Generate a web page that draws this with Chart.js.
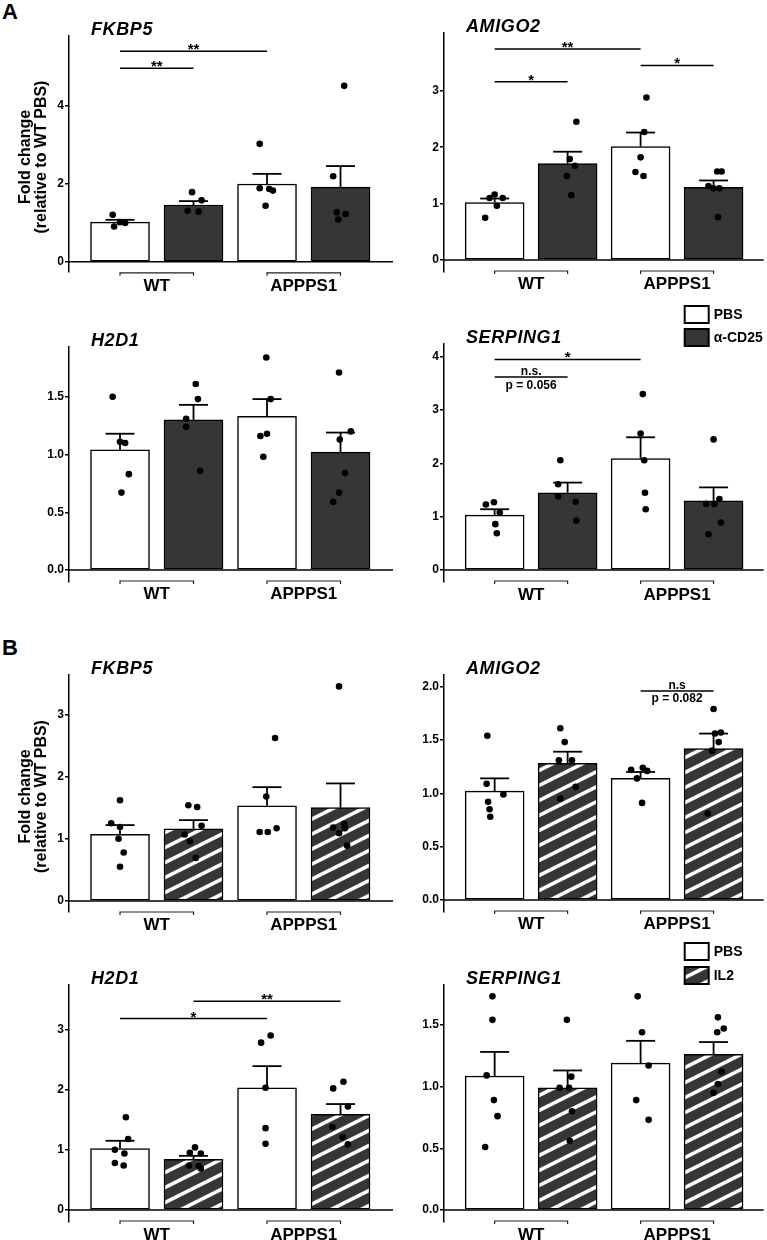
<!DOCTYPE html>
<html><head><meta charset="utf-8">
<script src="https://cdn.jsdelivr.net/npm/chart.js@4.4.1/dist/chart.umd.min.js"></script>
<style>
html,body{margin:0;padding:0;background:#fff;width:767px;height:1240px;overflow:hidden;position:relative;font-family:'Liberation Sans',Arial,sans-serif;}
canvas{position:absolute;}
.lab{position:absolute;font-weight:bold;font-size:22px;line-height:22px;color:#000;}
</style></head><body>
<div class="lab" style="left:2px;top:1px">A</div>
<div class="lab" style="left:2px;top:637px">B</div>
<script>
// ---------- categories ----------
const groups = ['WT', 'APPPS1'];
const legendA = ['PBS', 'α-CD25'];
const legendB = ['PBS', 'IL2'];
const yTitle = ['Fold change', '(relative to WT PBS)'];

// ---------- Panel A : FKBP5 ----------
const aFkbp5Mean = [1.02, 1.46, 2.00, 1.92];
const aFkbp5Sem  = [0.06, 0.10, 0.26, 0.54];
const aFkbp5Pts  = [[1.21,0.91,1.02,1.00],[1.79,1.58,1.31,1.29],[3.03,1.87,1.83,1.44,1.89],[4.52,2.20,1.27,1.23,1.09]];
const aFkbp5Jit  = [[-0.10,-0.08,0,0.07],[-0.02,0.11,-0.08,0.07],[-0.10,0.03,0.08,-0.02,-0.10],[0.05,-0.10,-0.05,0.07,-0.03]];
const aFkbp5Ticks = [0, 2, 4];
const aFkbp5TickLabels = ['0', '2', '4'];
const aFkbp5Sig = [{from:0,to:2,at:5.41,text:'**'},{from:0,to:1,at:4.97,text:'**'}];

// ---------- Panel A : AMIGO2 ----------
const aAmigo2Mean = [1.02, 1.71, 2.01, 1.29];
const aAmigo2Sem  = [0.07, 0.21, 0.25, 0.12];
const aAmigo2Pts  = [[1.16,1.10,1.10,0.96,0.75],[2.45,1.79,1.67,1.49,1.15],[2.88,2.27,1.82,1.56,1.49],[1.57,1.57,1.31,1.27,1.27,0.76]];
const aAmigo2Jit  = [[0,-0.07,0.11,0.03,-0.13],[0.12,0.03,0.10,-0.01,0.05],[0.08,0.05,0,-0.07,0.04],[0.05,0.11,-0.07,0,0.08,0.06]];
const aAmigo2Ticks = [0, 1, 2, 3];
const aAmigo2TickLabels = ['0', '1', '2', '3'];
const aAmigo2Sig = [{from:0,to:2,at:3.74,text:'**'},{from:0,to:1,at:3.16,text:'*'},{from:2,to:3,at:3.45,text:'*'}];

// ---------- Panel A : H2D1 ----------
const aH2d1Mean = [1.04, 1.30, 1.33, 1.02];
const aH2d1Sem  = [0.14, 0.13, 0.15, 0.17];
const aH2d1Pts  = [[1.50,1.11,1.10,0.83,0.67],[1.61,1.48,1.31,1.24,0.86],[1.84,1.48,1.18,1.16,0.98],[1.71,1.20,1.13,0.84,0.67,0.59]];
const aH2d1Jit  = [[-0.10,0,0.07,0.12,0.02],[0.03,0.06,-0.10,-0.10,0.09],[-0.01,0.05,0,-0.09,-0.05],[-0.02,0.14,-0.01,0.06,-0.02,-0.10]];
const aH2d1Ticks = [0, 0.5, 1, 1.5];
const aH2d1TickLabels = ['0.0', '0.5', '1.0', '1.5'];

// ---------- Panel A : SERPING1 ----------
const aSerping1Mean = [1.03, 1.45, 2.09, 1.30];
const aSerping1Sem  = [0.11, 0.19, 0.40, 0.25];
const aSerping1Pts  = [[1.27,1.23,1.08,0.86,0.69],[2.06,1.61,1.38,1.28,0.93],[3.30,2.56,2.06,1.45,1.14],[2.45,1.33,1.24,1.24,0.89,0.67]];
const aSerping1Jit  = [[-0.01,-0.12,0.07,0.01,0.03],[-0.10,-0.13,-0.13,0.11,0.12],[0.03,0,0.05,0.06,0.07],[0,0.08,-0.10,0.01,0.10,-0.07]];
const aSerping1Ticks = [0, 1, 2, 3, 4];
const aSerping1TickLabels = ['0', '1', '2', '3', '4'];
const aSerping1Sig = [{from:0,to:2,at:3.95,text:'*'},{from:0,to:1,at:3.62,text:'n.s.',below:'p = 0.056'}];

// ---------- Panel B : FKBP5 ----------
const bFkbp5Mean = [1.07, 1.16, 1.53, 1.50];
const bFkbp5Sem  = [0.15, 0.14, 0.30, 0.39];
const bFkbp5Pts  = [[1.62,1.25,1.19,1.00,0.78,0.55],[1.54,1.51,1.21,1.07,0.96,0.69],[2.62,1.68,1.11,1.11,1.17],[3.45,1.18,1.24,1.09,1.17,0.89]];
const bFkbp5Jit  = [[0,-0.12,0,-0.02,0.05,0],[-0.07,0.05,0.11,-0.12,-0.05,0.03],[0.11,-0.01,-0.10,0.01,0.13],[-0.02,-0.10,0.05,-0.02,0.06,0.09]];
const bFkbp5Ticks = [0, 1, 2, 3];
const bFkbp5TickLabels = ['0', '1', '2', '3'];

// ---------- Panel B : AMIGO2 ----------
const bAmigo2Mean = [1.02, 1.28, 1.14, 1.42];
const bAmigo2Sem  = [0.12, 0.11, 0.06, 0.14];
const bAmigo2Pts  = [[1.54,1.09,0.99,0.92,0.85,0.78],[1.61,1.48,1.31,1.31,1.06,0.95],[1.22,1.24,1.21,1.14,0.91],[1.79,1.57,1.56,1.48,1.40,0.81]];
const bAmigo2Jit  = [[-0.10,-0.11,0.12,-0.09,-0.07,-0.06],[-0.10,-0.04,-0.12,0.06,0.11,-0.10],[-0.13,0.03,0.09,-0.05,0.02],[0,0.10,0.02,0.07,-0.02,-0.08]];
const bAmigo2Ticks = [0, 0.5, 1, 1.5, 2];
const bAmigo2TickLabels = ['0.0', '0.5', '1.0', '1.5', '2.0'];
const bAmigo2Sig = [{from:2,to:3,at:1.96,text:'n.s',below:'p = 0.082'}];

// ---------- Panel B : H2D1 ----------
const bH2d1Mean = [1.02, 0.84, 2.03, 1.59];
const bH2d1Sem  = [0.13, 0.06, 0.36, 0.17];
const bH2d1Pts  = [[1.54,1.18,1.00,0.94,0.78,0.74],[1.04,0.95,0.94,0.74,0.73,0.69],[2.90,2.78,2.03,1.36,1.10],[2.13,2.02,1.72,1.38,1.21,1.09]];
const bH2d1Jit  = [[0.08,0.11,-0.07,0.06,-0.07,0.05],[0.02,-0.05,0.10,-0.06,0.07,0.10],[0.05,-0.08,-0.02,-0.02,-0.02],[0.04,-0.10,0.10,-0.11,0.03,0.10]];
const bH2d1Ticks = [0, 1, 2, 3];
const bH2d1TickLabels = ['0', '1', '2', '3'];
const bH2d1Sig = [{from:0,to:2,at:3.18,text:'*'},{from:1,to:3,at:3.47,text:'**'}];

// ---------- Panel B : SERPING1 ----------
const bSerping1Mean = [1.085, 0.99, 1.19, 1.26];
const bSerping1Sem  = [0.195, 0.14, 0.18, 0.10];
const bSerping1Pts  = [[1.73,1.54,1.09,0.89,0.76,0.51],[1.54,1.08,0.99,0.99,0.80,0.56],[1.73,1.44,1.17,0.89,0.73],[1.56,1.47,1.44,1.12,1.02,0.95]];
const bSerping1Jit  = [[-0.03,-0.03,-0.11,-0.01,0.04,-0.13],[-0.01,0.05,-0.11,0.02,0.06,0.03],[-0.04,0.02,0.11,-0.06,0.11],[0.06,0.14,0.05,0.11,0.06,0]];
const bSerping1Ticks = [0, 0.5, 1, 1.5];
const bSerping1TickLabels = ['0.0', '0.5', '1.0', '1.5'];

// ---------- styling / layout ----------
const FONT = "'Liberation Sans', Arial, sans-serif";
const DARK = '#363636';
const COL_L = {x:0, w:400, l:69, r:393, xMin:-0.694, xMax:3.714};
const COL_R = {x:400, w:367, l:444, r:766, xMin:-0.694, xMax:3.687};

function makeHatch(ctx){
  const t = document.createElement('canvas'); t.width = 30; t.height = 15;
  const g = t.getContext('2d');
  g.fillStyle = DARK; g.fillRect(0,0,30,15);
  g.strokeStyle = '#fff'; g.lineWidth = 3.6;
  for (const off of [-15,0,15]) { g.beginPath(); g.moveTo(-2, 16+off); g.lineTo(32, -1+off); g.stroke(); }
  return ctx.createPattern(t, 'repeat');
}

function seg(ctx, x1, y1, x2, y2, w){ ctx.lineWidth = w; ctx.beginPath(); ctx.moveTo(x1,y1); ctx.lineTo(x2,y2); ctx.stroke(); }

function decor(ch, p, fills){
  const {ctx, chartArea: ca, scales:{x, y}} = ch;
  const X = v => x.getPixelForValue(v), Y = v => y.getPixelForValue(v);
  ctx.save();
  ctx.strokeStyle = '#000'; ctx.fillStyle = '#000';
  const y0 = Y(0);
  seg(ctx, ca.left, y0, ca.right, y0, 1.5);
  // error bars (mean + SEM)
  p.mean.forEach((m,i)=>{
    const cx = X(i), yt = Y(m + p.sem[i]), yb = Y(m);
    seg(ctx, cx, yb, cx, yt, 1.8);
    seg(ctx, cx-14.5, yt, cx+14.5, yt, 1.8);
  });
  // significance brackets
  (p.sig || []).forEach(s=>{
    const ys = Y(s.at), xa = X(s.from), xb = X(s.to), cx = (xa+xb)/2;
    seg(ctx, xa, ys, xb, ys, 1.5);
    ctx.textAlign = 'center'; ctx.textBaseline = 'alphabetic';
    if (s.text.charAt(0) === '*') { ctx.font = `bold 15px ${FONT}`; ctx.fillText(s.text, cx, ys+3); }
    else { ctx.font = `bold 12px ${FONT}`; ctx.fillText(s.text, cx, ys-2); if (s.below) ctx.fillText(s.below, cx, ys+11.5); }
  });
  // group brackets below the axis
  groups.forEach((g,k)=>{
    const xa = X(2*k), xb = X(2*k+1), yb = y0 + 11;
    ctx.lineWidth = 1.2; ctx.strokeStyle = '#222';
    ctx.beginPath(); ctx.moveTo(xa, yb+3); ctx.lineTo(xa, yb); ctx.lineTo(xb, yb); ctx.lineTo(xb, yb+3); ctx.stroke();
    ctx.font = `bold 17px ${FONT}`; ctx.textAlign = 'center'; ctx.textBaseline = 'alphabetic';
    ctx.fillText(g, (xa+xb)/2, y0 + 29.5);
  });
  ctx.strokeStyle = '#000';
  // title
  ctx.save();
  ctx.font = `italic bold 18px ${FONT}`; ctx.textAlign = 'left'; ctx.textBaseline = 'alphabetic';
  try { ctx.letterSpacing = '0.6px'; } catch(e) {}
  ctx.fillText(p.title, ca.left + 22, ca.top - 1);
  ctx.restore();
  // y-axis title
  if (p.yTitle) {
    ctx.save();
    ctx.translate(26, (ca.top + ca.bottom)/2 + 3);
    ctx.rotate(-Math.PI/2);
    ctx.font = `bold 16px ${FONT}`; ctx.textAlign = 'center'; ctx.textBaseline = 'middle';
    ctx.fillText(p.yTitle[0], 0, 0);
    ctx.fillText(p.yTitle[1], 0, 16);
    ctx.restore();
  }
  // legend
  if (p.legend) {
    p.legend.names.forEach((nm,k)=>{
      const bx = ca.right - 79, by = ca.top + p.legend.dy[k];
      ctx.fillStyle = fills[k]; ctx.fillRect(bx, by, 24, 17);
      ctx.lineWidth = 2; ctx.strokeStyle = '#000'; ctx.strokeRect(bx, by, 24, 17);
      ctx.fillStyle = '#000'; ctx.font = `bold 14px ${FONT}`; ctx.textAlign = 'left'; ctx.textBaseline = 'middle';
      ctx.fillText(nm, bx + 29, by + 9);
    });
  }
  ctx.restore();
}

function panel(p){
  const col = p.col;
  const cv = document.createElement('canvas');
  cv.width = col.w; cv.height = p.box.h;
  cv.style.left = col.x + 'px'; cv.style.top = p.box.y + 'px';
  cv.style.width = col.w + 'px'; cv.style.height = p.box.h + 'px';
  document.body.appendChild(cv);
  const ctx = cv.getContext('2d');
  const pat = makeHatch(ctx);
  const fills = p.hatched ? ['#fff', pat] : ['#fff', DARK];
  const barData = p.mean.map((v,i)=>({x:i, y:v}));
  const ptData = [];
  p.pts.forEach((arr,i)=>arr.forEach((v,j)=>ptData.push({x: i + p.jit[i][j], y: v})));
  new Chart(ctx, {
    type: 'bar',
    data: { datasets: [
      { type:'scatter', data: ptData, pointRadius: 3.3, pointBackgroundColor:'#000', pointBorderWidth:0, pointHoverRadius:3.3, order:0 },
      { type:'bar', data: barData, backgroundColor: c => fills[c.dataIndex % 2], borderColor:'#000', borderWidth:1.5, borderSkipped:false, barThickness:59, order:1 }
    ]},
    options: {
      responsive:false, animation:false, devicePixelRatio:1, events:[],
      layout: { padding: { left:0, right: col.x + col.w - col.r, top: p.area.t - p.box.y, bottom: p.box.y + p.box.h - p.area.b } },
      plugins: { legend:{display:false}, tooltip:{enabled:false}, title:{display:false} },
      scales: {
        x: { type:'linear', min: col.xMin, max: col.xMax, display:false, offset:false },
        y: { type:'linear', min: p.yMin, max: p.yMax,
             afterBuildTicks: s => { s.ticks = p.ticks.map(v=>({value:v})); },
             afterFit: s => { s.width = col.l - col.x; },
             ticks: { callback:(v,i)=>p.tickLabels[i], color:'#000', autoSkip:false, padding:1,
                      font:{family:FONT, size:12, weight:'bold'} },
             grid: { drawOnChartArea:false, drawTicks:true, tickLength:4, color:'#000', lineWidth:1.5 },
             border: { display:true, color:'#000', width:1.5 } }
      }
    },
    plugins: [{ id:'decor', afterDatasetsDraw: ch => decor(ch, p, fills) }]
  });
}

const panels = [
  { col:COL_L, box:{y:0,h:300},   area:{t:36,b:272},   yMin:-0.26,  yMax:5.80,  title:'FKBP5',    yTitle:yTitle,
    mean:aFkbp5Mean, sem:aFkbp5Sem, pts:aFkbp5Pts, jit:aFkbp5Jit, ticks:aFkbp5Ticks, tickLabels:aFkbp5TickLabels, sig:aFkbp5Sig },
  { col:COL_R, box:{y:0,h:300},   area:{t:33,b:272},   yMin:-0.213, yMax:4.025, title:'AMIGO2',
    mean:aAmigo2Mean, sem:aAmigo2Sem, pts:aAmigo2Pts, jit:aAmigo2Jit, ticks:aAmigo2Ticks, tickLabels:aAmigo2TickLabels, sig:aAmigo2Sig },
  { col:COL_L, box:{y:300,h:310}, area:{t:347,b:582},  yMin:-0.104, yMax:1.931, title:'H2D1',
    mean:aH2d1Mean, sem:aH2d1Sem, pts:aH2d1Pts, jit:aH2d1Jit, ticks:aH2d1Ticks, tickLabels:aH2d1TickLabels },
  { col:COL_R, box:{y:300,h:310}, area:{t:344,b:582},  yMin:-0.225, yMax:4.24,  title:'SERPING1',
    mean:aSerping1Mean, sem:aSerping1Sem, pts:aSerping1Pts, jit:aSerping1Jit, ticks:aSerping1Ticks, tickLabels:aSerping1TickLabels, sig:aSerping1Sig,
    legend:{names:legendA, dy:[-38,-15]} },
  { col:COL_L, box:{y:630,h:310}, area:{t:675,b:912},  yMin:-0.177, yMax:3.633, title:'FKBP5', yTitle:yTitle, hatched:true,
    mean:bFkbp5Mean, sem:bFkbp5Sem, pts:bFkbp5Pts, jit:bFkbp5Jit, ticks:bFkbp5Ticks, tickLabels:bFkbp5TickLabels },
  { col:COL_R, box:{y:630,h:310}, area:{t:675,b:912},  yMin:-0.1125, yMax:2.109, title:'AMIGO2', hatched:true,
    mean:bAmigo2Mean, sem:bAmigo2Sem, pts:bAmigo2Pts, jit:bAmigo2Jit, ticks:bAmigo2Ticks, tickLabels:bAmigo2TickLabels, sig:bAmigo2Sig },
  { col:COL_L, box:{y:940,h:300}, area:{t:985,b:1222}, yMin:-0.199, yMax:3.738, title:'H2D1', hatched:true,
    mean:bH2d1Mean, sem:bH2d1Sem, pts:bH2d1Pts, jit:bH2d1Jit, ticks:bH2d1Ticks, tickLabels:bH2d1TickLabels, sig:bH2d1Sig },
  { col:COL_R, box:{y:940,h:300}, area:{t:985,b:1222}, yMin:-0.097, yMax:1.822, title:'SERPING1', hatched:true,
    mean:bSerping1Mean, sem:bSerping1Sem, pts:bSerping1Pts, jit:bSerping1Jit, ticks:bSerping1Ticks, tickLabels:bSerping1TickLabels,
    legend:{names:legendB, dy:[-42,-18]} }
];
panels.forEach(panel);
</script>
</body></html>
